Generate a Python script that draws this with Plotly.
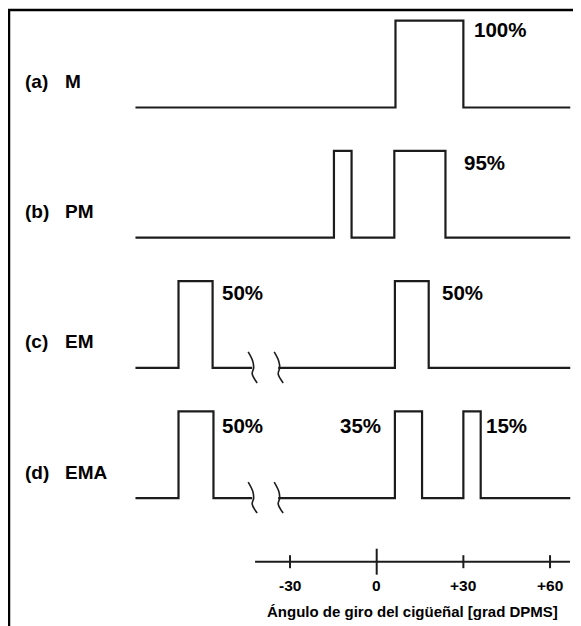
import plotly.graph_objects as go

# ---------------- data (crank angle in degrees, relative to TDC) ----------------
row_tags = ["(a)", "(b)", "(c)", "(d)"]
row_names = ["M", "PM", "EM", "EMA"]
row_pulses = [
    [(6.5, 30.0)],
    [(-14.8, -8.7), (6.1, 23.8)],
    [(-68.6, -56.8), (6.3, 18.0)],
    [(-68.6, -56.5), (6.3, 15.7), (30.0, 36.0)],
]
row_has_break = [False, False, True, True]
baseline_start = -83.5
baseline_end = 67.0
break_positions = [-43.1, -34.1]

# percentage labels: (row, x-angle, height, text, anchor)
pct_rows = [0, 1, 2, 2, 3, 3, 3]
pct_x = [33.0, 29.6, -54.2, 22.0, -54.2, 2.2, 37.3]
pct_y = [0.90, 0.87, 0.87, 0.87, 0.84, 0.84, 0.84]
pct_text = ["100%", "95%", "50%", "50%", "50%", "35%", "15%"]
pct_anchor = ["left", "left", "left", "left", "left", "right", "left"]

tick_vals = [-30, 0, 30, 60]
tick_text = ["-30", "0", "+30", "+60"]
axis_span = [-42.1, 66.9]
axis_title = "Ángulo de giro del cigüeñal [grad DPMS]"

# ---------------- geometry / style ----------------
PAGE_OFF = 8          # page body margin in the browser
W, H = 581, 626
PX_PER_DEG = 2.889
PX_PER_UNIT = 86.8
ROW_STEP = 1.5
X0_PX = 376.7          # screen px of 0 deg
Y0_PX = 107.5          # screen px of row (a) baseline


def deg_of(px):
    return (px - X0_PX) / PX_PER_DEG


def unit_of(py):
    return (Y0_PX - py) / PX_PER_UNIT


X_RANGE = [deg_of(PAGE_OFF), deg_of(PAGE_OFF + W)]
Y_RANGE = [unit_of(PAGE_OFF + H), unit_of(PAGE_OFF)]
AXIS_Y = unit_of(561.7)
TICKLAB_Y = unit_of(585)
TITLE_Y = unit_of(611)
LINE_COL = "#1c1c1c"
FONT = "Arial, Liberation Sans, sans-serif"

fig = go.Figure()


def wave(pulses, has_break):
    xs = [baseline_start]
    ys = [0.0]
    br_done = False
    for (a, b) in pulses:
        if has_break and not br_done and a > break_positions[0]:
            xs += [break_positions[0], None, break_positions[1]]
            ys += [0.0, None, 0.0]
            br_done = True
        xs += [a, a, b, b]
        ys += [0.0, 1.0, 1.0, 0.0]
    xs.append(baseline_end)
    ys.append(0.0)
    return xs, ys


# S-shaped break marks (pixel offsets from break point, y up)
s_dx = [-4.0, 0.5, 1.5, 0.0, 5.0]
s_dy = [16.0, 7.0, 0.0, -6.0, -15.0]

for k, pulses in enumerate(row_pulses):
    off = -ROW_STEP * k
    xs, ys = wave(pulses, row_has_break[k])
    ys = [None if v is None else v + off for v in ys]
    fig.add_trace(go.Scatter(x=xs, y=ys, mode="lines",
                             line=dict(color=LINE_COL, width=2.2),
                             hoverinfo="skip", showlegend=False,
                             connectgaps=False))
    if row_has_break[k]:
        for bp in break_positions:
            fig.add_trace(go.Scatter(
                x=[bp + d / PX_PER_DEG for d in s_dx],
                y=[off + d / PX_PER_UNIT for d in s_dy],
                mode="lines", line=dict(color=LINE_COL, width=1.6, shape="spline"),
                hoverinfo="skip", showlegend=False))
    fig.add_annotation(x=deg_of(23), y=off + 0.30,
                       text="<b>" + row_tags[k] + "</b>", showarrow=False,
                       xanchor="left", yanchor="middle",
                       font=dict(family=FONT, size=19, color="#000"))
    fig.add_annotation(x=deg_of(63), y=off + 0.30,
                       text="<b>" + row_names[k] + "</b>", showarrow=False,
                       xanchor="left", yanchor="middle",
                       font=dict(family=FONT, size=19, color="#000"))

for r, x, h, t, a in zip(pct_rows, pct_x, pct_y, pct_text, pct_anchor):
    fig.add_annotation(x=x, y=-ROW_STEP * r + h, text="<b>" + t + "</b>",
                       showarrow=False, xanchor=a, yanchor="middle",
                       font=dict(family=FONT, size=20.5, color="#000"))

# crank-angle axis
fig.add_trace(go.Scatter(x=axis_span, y=[AXIS_Y, AXIS_Y], mode="lines",
                         line=dict(color=LINE_COL, width=2), hoverinfo="skip",
                         showlegend=False))
tx, ty = [], []
for v in tick_vals:
    half = (13 if v == 0 else 6.5) / PX_PER_UNIT
    tx += [v, v, None]
    ty += [AXIS_Y - half, AXIS_Y + half, None]
fig.add_trace(go.Scatter(x=tx, y=ty, mode="lines",
                         line=dict(color=LINE_COL, width=2), hoverinfo="skip",
                         showlegend=False))
for v, t in zip(tick_vals, tick_text):
    fig.add_annotation(x=v, y=TICKLAB_Y, text="<b>" + t + "</b>", showarrow=False,
                       xanchor="center", yanchor="middle",
                       font=dict(family=FONT, size=15.5, color="#000"))
fig.add_annotation(x=deg_of(412), y=TITLE_Y,
                   text="<b>" + axis_title + "</b>", showarrow=False,
                   xanchor="center", yanchor="middle",
                   font=dict(family=FONT, size=15, color="#000"))

# frame
fig.add_shape(type="rect", xref="paper", yref="paper",
              x0=(9 - PAGE_OFF) / W, x1=1.02, y0=-0.02, y1=1 - (10 - PAGE_OFF) / H,
              line=dict(color="#000", width=2.5), fillcolor="rgba(0,0,0,0)")

fig.update_layout(
    width=W, height=H, margin=dict(l=0, r=0, t=0, b=0),
    paper_bgcolor="white", plot_bgcolor="white",
    xaxis=dict(range=X_RANGE, visible=False, fixedrange=True),
    yaxis=dict(range=Y_RANGE, visible=False, fixedrange=True),
)
fig.write_html("out.html")
